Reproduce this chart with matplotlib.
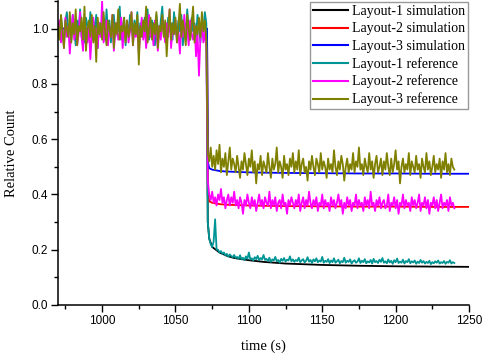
import numpy as np
import matplotlib
matplotlib.use("Agg")
import matplotlib.pyplot as plt
from matplotlib.ticker import MultipleLocator

#%% Data
step_t = 1072

# simulation curves (smooth)
sim_time = [970, 1071.5, 1072, 1073, 1075, 1080, 1085, 1090, 1100, 1110, 1125, 1150, 1175, 1200, 1225, 1250]
sim1 = [1.0, 1.0, 0.30, 0.24, 0.21, 0.19, 0.178, 0.17, 0.162, 0.156, 0.15, 0.145, 0.142, 0.14, 0.139, 0.138]
sim2 = [1.0, 1.0, 0.40, 0.375, 0.37, 0.365, 0.363, 0.362, 0.36, 0.359, 0.358, 0.357, 0.356, 0.356, 0.355, 0.355]
sim3 = [1.0, 1.0, 0.52, 0.495, 0.49, 0.485, 0.483, 0.482, 0.48, 0.479, 0.478, 0.477, 0.476, 0.476, 0.475, 0.475]

# reference measurements, 1 s samples before and after the step
ref1_pre = [1.02, 0.97, 1.04, 0.99, 0.95, 1.03, 1.06, 0.98, 1.01, 0.96, 1.05, 1.00, 0.94, 1.03, 0.99, 1.07,
            0.97, 1.02, 0.95, 1.04, 1.01, 0.98, 1.06, 0.96, 1.03, 0.99, 1.05, 0.93, 1.02, 0.98, 1.04, 1.00,
            0.96, 1.07, 0.99, 1.03, 0.95, 1.01, 1.05, 0.97, 1.02, 0.99, 1.08, 0.96, 1.00, 1.04, 0.94, 1.02,
            0.98, 1.05, 1.01, 0.97, 1.03, 0.99, 1.06, 0.95, 1.02, 1.00, 0.97, 1.04, 0.98, 1.07, 0.96, 1.01,
            1.03, 0.99, 0.94, 1.05, 1.00, 0.97, 1.03, 1.08, 0.98, 1.01, 0.95, 1.04, 0.99, 1.02, 0.96, 1.06,
            1.00, 0.97, 1.03, 0.99, 1.05, 0.94, 1.02, 0.98, 1.07, 1.00, 0.96, 1.04, 0.99, 1.02, 0.97, 1.05,
            1.01, 0.95, 1.03, 0.99, 1.06, 1.02]
ref2_pre = [0.98, 1.03, 0.95, 1.00, 0.93, 1.04, 0.97, 1.01, 0.91, 0.99, 1.05, 0.96, 1.02, 0.94, 0.98, 1.06,
            0.97, 0.92, 1.03, 0.99, 0.95, 1.01, 0.89, 0.98, 1.04, 0.96, 1.00, 0.93, 1.02, 0.97, 1.10, 0.95,
            0.99, 1.03, 0.94, 1.00, 0.97, 1.05, 0.92, 0.99, 1.02, 0.96, 0.98, 1.04, 0.93, 1.01, 0.97, 1.03,
            0.95, 0.99, 1.06, 0.94, 1.00, 0.97, 1.02, 0.91, 0.98, 1.04, 0.96, 1.01, 0.93, 0.99, 1.05, 0.97,
            1.00, 0.94, 1.03, 0.98, 0.92, 1.01, 0.96, 1.04, 0.99, 0.95, 1.02, 0.97, 1.07, 0.93, 1.00, 0.98,
            1.03, 0.95, 0.99, 0.91, 1.02, 0.97, 1.05, 0.96, 1.00, 0.94, 1.03, 0.98, 0.96, 1.01, 0.90, 0.99,
            0.83, 0.97, 1.02, 0.95, 0.99, 0.93]
ref3_pre = [1.01, 0.96, 1.05, 0.99, 0.93, 1.03, 1.00, 0.97, 1.06, 0.95, 1.02, 0.98, 1.07, 0.94, 1.01, 0.99,
            1.04, 0.96, 1.08, 0.92, 1.00, 1.03, 0.97, 1.05, 0.95, 1.01, 0.88, 1.04, 0.98, 1.02, 0.96, 1.06,
            0.99, 0.94, 1.03, 1.00, 0.97, 1.05, 0.93, 1.02, 0.98, 1.07, 0.96, 1.01, 0.99, 1.04, 0.95, 1.03,
            0.97, 1.00, 1.06, 0.94, 1.02, 0.98, 1.05, 0.87, 1.01, 0.97, 1.03, 0.99, 1.08, 0.95, 1.00, 1.04,
            0.96, 1.02, 0.98, 1.06, 0.93, 1.01, 0.99, 1.05, 0.97, 1.03, 0.90, 1.00, 1.07, 0.96, 1.02, 0.98,
            1.04, 0.95, 1.01, 1.09, 0.97, 1.03, 0.99, 0.94, 1.05, 1.00, 0.96, 1.02, 1.08, 0.95, 1.01, 0.98,
            1.04, 0.97, 1.06, 0.99, 1.03, 0.96]

ref1_post = [0.30, 0.24, 0.22, 0.21, 0.23, 0.31, 0.20, 0.20, 0.19, 0.195, 0.185, 0.19, 0.18, 0.185, 0.175, 0.183,
             0.177, 0.173, 0.181, 0.170, 0.174, 0.167, 0.180, 0.165, 0.171, 0.163, 0.176, 0.167, 0.190, 0.165,
             0.169, 0.161, 0.173, 0.166, 0.178, 0.162, 0.170, 0.165, 0.181, 0.163, 0.167, 0.159, 0.171, 0.156,
             0.165, 0.161, 0.174, 0.158, 0.163, 0.153, 0.167, 0.160, 0.170, 0.157, 0.164, 0.161, 0.176, 0.158,
             0.165, 0.156, 0.163, 0.159, 0.171, 0.155, 0.161, 0.166, 0.154, 0.160, 0.173, 0.157, 0.163, 0.152,
             0.165, 0.158, 0.169, 0.155, 0.161, 0.157, 0.174, 0.153, 0.160, 0.156, 0.166, 0.152, 0.161, 0.155,
             0.169, 0.153, 0.158, 0.164, 0.151, 0.159, 0.155, 0.171, 0.153, 0.160, 0.156, 0.165, 0.150, 0.158,
             0.162, 0.153, 0.157, 0.169, 0.152, 0.160, 0.155, 0.166, 0.151, 0.158, 0.154, 0.163, 0.150, 0.167,
             0.155, 0.159, 0.152, 0.164, 0.156, 0.170, 0.153, 0.158, 0.151, 0.165, 0.154, 0.160, 0.149, 0.162,
             0.155, 0.168, 0.152, 0.157, 0.153, 0.164, 0.150, 0.159, 0.155, 0.166, 0.151, 0.158, 0.154, 0.161,
             0.149, 0.157, 0.152, 0.163, 0.153, 0.159, 0.150, 0.156, 0.152, 0.160, 0.148, 0.155, 0.151, 0.158,
             0.153, 0.161, 0.150, 0.155, 0.152, 0.159, 0.149, 0.156, 0.153, 0.162, 0.150, 0.155, 0.152]
ref2_post = [0.45, 0.40, 0.38, 0.41, 0.37, 0.39, 0.36, 0.40, 0.38, 0.42, 0.37, 0.39, 0.35, 0.38, 0.40, 0.36,
             0.39, 0.37, 0.41, 0.36, 0.38, 0.35, 0.39, 0.37, 0.33, 0.38, 0.36, 0.40, 0.37, 0.35, 0.39, 0.36,
             0.38, 0.34, 0.37, 0.40, 0.36, 0.38, 0.35, 0.39, 0.37, 0.36, 0.41, 0.35, 0.38, 0.36, 0.39, 0.34,
             0.37, 0.38, 0.35, 0.40, 0.36, 0.37, 0.33, 0.38, 0.36, 0.39, 0.37, 0.35, 0.38, 0.36, 0.40, 0.34,
             0.37, 0.39, 0.35, 0.38, 0.36, 0.41, 0.37, 0.35, 0.38, 0.36, 0.39, 0.34, 0.37, 0.36, 0.40, 0.35,
             0.38, 0.36, 0.37, 0.34, 0.39, 0.36, 0.38, 0.35, 0.37, 0.40, 0.36, 0.38, 0.33, 0.37, 0.35, 0.39,
             0.36, 0.38, 0.34, 0.37, 0.36, 0.40, 0.35, 0.38, 0.36, 0.37, 0.34, 0.39, 0.36, 0.38, 0.35, 0.41,
             0.36, 0.37, 0.34, 0.38, 0.36, 0.39, 0.35, 0.37, 0.38, 0.35, 0.36, 0.40, 0.34, 0.37, 0.36, 0.39,
             0.35, 0.38, 0.33, 0.37, 0.36, 0.40, 0.35, 0.38, 0.36, 0.37, 0.34, 0.39, 0.36, 0.38, 0.35, 0.37,
             0.40, 0.34, 0.37, 0.36, 0.39, 0.35, 0.38, 0.33, 0.37, 0.36, 0.39, 0.35, 0.38, 0.34, 0.37, 0.40,
             0.35, 0.37, 0.36, 0.38, 0.34, 0.39, 0.36, 0.37, 0.35]
ref3_post = [0.55, 0.52, 0.57, 0.50, 0.54, 0.49, 0.56, 0.51, 0.58, 0.48, 0.53, 0.50, 0.55, 0.47, 0.52, 0.57,
             0.49, 0.53, 0.51, 0.48, 0.54, 0.50, 0.46, 0.52, 0.49, 0.55, 0.51, 0.47, 0.53, 0.50, 0.56, 0.48,
             0.52, 0.44, 0.51, 0.49, 0.54, 0.47, 0.52, 0.50, 0.48, 0.55, 0.50, 0.46, 0.53, 0.49, 0.51, 0.57,
             0.48, 0.52, 0.50, 0.46, 0.54, 0.49, 0.51, 0.47, 0.53, 0.50, 0.55, 0.48, 0.52, 0.49, 0.56, 0.47,
             0.51, 0.53, 0.48, 0.50, 0.45, 0.52, 0.49, 0.54, 0.50, 0.47, 0.53, 0.51, 0.48, 0.55, 0.49, 0.52,
             0.50, 0.46, 0.53, 0.49, 0.51, 0.48, 0.56, 0.50, 0.47, 0.52, 0.49, 0.54, 0.51, 0.45, 0.50, 0.53,
             0.48, 0.51, 0.49, 0.55, 0.48, 0.52, 0.50, 0.57, 0.49, 0.51, 0.47, 0.53, 0.50, 0.48, 0.55, 0.49,
             0.52, 0.46, 0.51, 0.54, 0.48, 0.50, 0.53, 0.47, 0.52, 0.49, 0.55, 0.50, 0.47, 0.53, 0.48, 0.51,
             0.56, 0.49, 0.52, 0.44, 0.50, 0.53, 0.48, 0.51, 0.49, 0.55, 0.47, 0.52, 0.50, 0.48, 0.54, 0.49,
             0.51, 0.46, 0.53, 0.50, 0.48, 0.55, 0.49, 0.52, 0.47, 0.50, 0.54, 0.48, 0.51, 0.49, 0.53, 0.46,
             0.52, 0.49, 0.55, 0.48, 0.51, 0.47, 0.53, 0.50, 0.49]


def ref_series(pre, post):
    t = np.concatenate([np.arange(step_t - len(pre), step_t), np.arange(step_t, step_t + len(post))])
    return t, np.array(pre + post)


#%% Plot
serif = "Liberation Serif"
plt.rcParams["font.family"] = "Liberation Sans"

fig = plt.figure(figsize=(4.84, 3.53), dpi=100)
ax = fig.add_axes([0.12, 0.136, 0.849, 0.861])

ax.plot(sim_time, sim1, color="black", lw=1.3, label="Layout-1 simulation")
ax.plot(sim_time, sim2, color="#ff0000", lw=1.3, label="Layout-2 simulation")
ax.plot(sim_time, sim3, color="#0000ff", lw=1.3, label="Layout-3 simulation")
for pre, post, c, lab in [(ref1_pre, ref1_post, "#009595", "Layout-1 reference"),
                          (ref2_pre, ref2_post, "#ff00ff", "Layout-2 reference"),
                          (ref3_pre, ref3_post, "#808000", "Layout-3 reference")]:
    t, v = ref_series(pre, post)
    ax.plot(t, v, color=c, lw=1.3, label=lab)

ax.set_xlim(970, 1250)
ax.set_ylim(0, 1.1)
ax.xaxis.set_major_locator(MultipleLocator(50))
ax.xaxis.set_minor_locator(MultipleLocator(25))
ax.yaxis.set_major_locator(MultipleLocator(0.2))
ax.yaxis.set_minor_locator(MultipleLocator(0.1))
ax.yaxis.set_major_formatter(plt.FormatStrFormatter("%.1f"))
ax.tick_params(which="major", direction="out", length=5, width=1, labelsize=8.5, pad=2)
ax.tick_params(which="minor", direction="out", length=3, width=1)
for s in ["top", "right"]:
    ax.spines[s].set_visible(False)
for s in ["left", "bottom"]:
    ax.spines[s].set_linewidth(1.1)

ax.set_xlabel("time (s)", family=serif, fontsize=10.5, labelpad=9)
ax.set_ylabel("Relative Count", family=serif, fontsize=10.5, labelpad=10)

leg = ax.legend(loc="upper right", prop={"family": serif, "size": 10}, frameon=True, fancybox=False,
                edgecolor="#808080", borderpad=0.2, handlelength=2.5, handletextpad=0.3,
                labelspacing=0.3, borderaxespad=0.1)
leg.get_frame().set_linewidth(1.0)
for h in leg.get_lines():
    h.set_linewidth(1.5)

fig.savefig("out.png", dpi=100)
